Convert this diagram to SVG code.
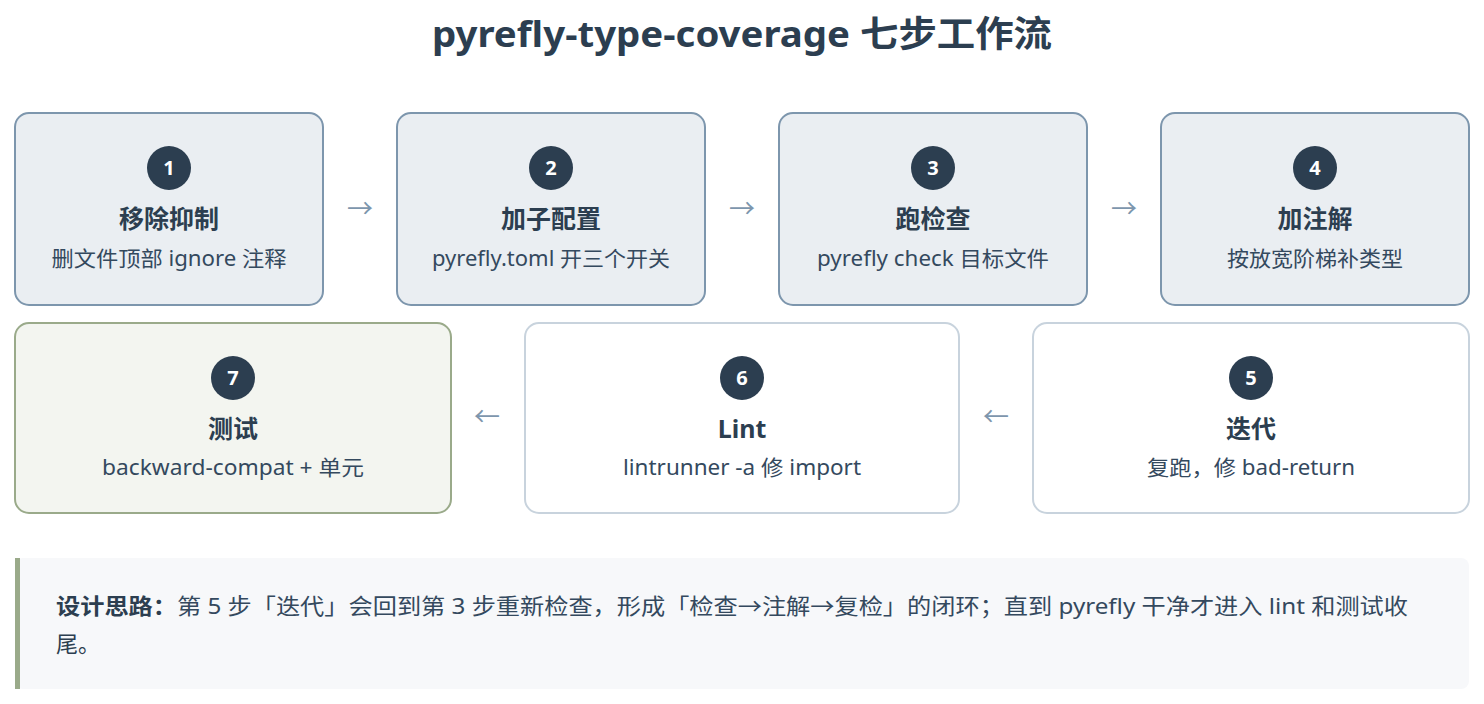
<svg xmlns="http://www.w3.org/2000/svg" width="1484" height="704" viewBox="0 0 1484 704">
<style>
text{font-family:"Noto Sans","Noto Sans CJK SC",sans-serif;fill:#2c3e50;text-anchor:middle}
.t{font-size:36px;font-weight:bold}
.a{fill:#eaeef2;stroke:#7d96ad;stroke-width:2}
.w{fill:#fff;stroke:#c8d3dd;stroke-width:2}
.g{fill:#f3f5f0;stroke:#9aaa8a;stroke-width:2}
.c{fill:#2c3e50}
.n{fill:#fff;font-size:20px;font-weight:bold}
.h{font-size:25px;font-weight:bold}
.s{font-size:21px;fill:#34495e}
.ar{font-size:26px;fill:#7d96ad}
.p{font-size:22px;text-anchor:start}
</style>
<text class="t" x="742" y="47" textLength="620" lengthAdjust="spacingAndGlyphs">pyrefly-type-coverage 七步工作流</text>
<g id="connectors">
<text class="ar" x="360" y="218">→</text>
<text class="ar" x="742" y="218">→</text>
<text class="ar" x="1124" y="218">→</text>
<text class="ar" x="996" y="426">←</text>
<text class="ar" x="487" y="426">←</text>
</g>
<g id="n1"><rect class="a" x="15" y="113" width="308" height="192" rx="14"/><circle class="c" cx="169" cy="168" r="22"/><text class="n" x="169" y="175">1</text><text class="h" x="169" y="228">移除抑制</text><text class="s" x="169" y="266" textLength="235" lengthAdjust="spacingAndGlyphs">删文件顶部 ignore 注释</text></g>
<g id="n2"><rect class="a" x="397" y="113" width="308" height="192" rx="14"/><circle class="c" cx="551" cy="168" r="22"/><text class="n" x="551" y="175">2</text><text class="h" x="551" y="228">加子配置</text><text class="s" x="551" y="266" textLength="238" lengthAdjust="spacingAndGlyphs">pyrefly.toml 开三个开关</text></g>
<g id="n3"><rect class="a" x="779" y="113" width="308" height="192" rx="14"/><circle class="c" cx="933" cy="168" r="22"/><text class="n" x="933" y="175">3</text><text class="h" x="933" y="228">跑检查</text><text class="s" x="933" y="266" textLength="232" lengthAdjust="spacingAndGlyphs">pyrefly check 目标文件</text></g>
<g id="n4"><rect class="a" x="1161" y="113" width="308" height="192" rx="14"/><circle class="c" cx="1315" cy="168" r="22"/><text class="n" x="1315" y="175">4</text><text class="h" x="1315" y="228">加注解</text><text class="s" x="1315" y="266" textLength="176" lengthAdjust="spacingAndGlyphs">按放宽阶梯补类型</text></g>
<g id="n5"><rect class="w" x="1033" y="323" width="436" height="190" rx="14"/><circle class="c" cx="1251" cy="378" r="22"/><text class="n" x="1251" y="385">5</text><text class="h" x="1251" y="438">迭代</text><text class="s" x="1251" y="475" textLength="208" lengthAdjust="spacingAndGlyphs">复跑，修 bad-return</text></g>
<g id="n6"><rect class="w" x="525" y="323" width="434" height="190" rx="14"/><circle class="c" cx="742" cy="378" r="22"/><text class="n" x="742" y="385">6</text><text class="h" x="742" y="438">Lint</text><text class="s" x="742" y="475" textLength="238" lengthAdjust="spacingAndGlyphs">lintrunner -a 修 import</text></g>
<g id="n7"><rect class="g" x="15" y="323" width="436" height="190" rx="14"/><circle class="c" cx="233" cy="378" r="22"/><text class="n" x="233" y="385">7</text><text class="h" x="233" y="438">测试</text><text class="s" x="233" y="475" textLength="262" lengthAdjust="spacingAndGlyphs">backward-compat + 单元</text></g>
<g id="note">
<rect x="15" y="558" width="1454" height="131" rx="8" fill="#f7f8fa"/>
<rect x="15" y="558" width="5" height="131" fill="#9aaa8a"/>
<text class="p" x="56" y="614" textLength="1352" lengthAdjust="spacingAndGlyphs"><tspan font-weight="bold">设计思路：</tspan><tspan fill="#34495e">第 5 步「迭代」会回到第 3 步重新检查，形成「检查→注解→复检」的闭环；直到 pyrefly 干净才进入 lint 和测试收</tspan></text>
<text class="p" x="56" y="652" fill="#34495e">尾。</text>
</g>
</svg>
